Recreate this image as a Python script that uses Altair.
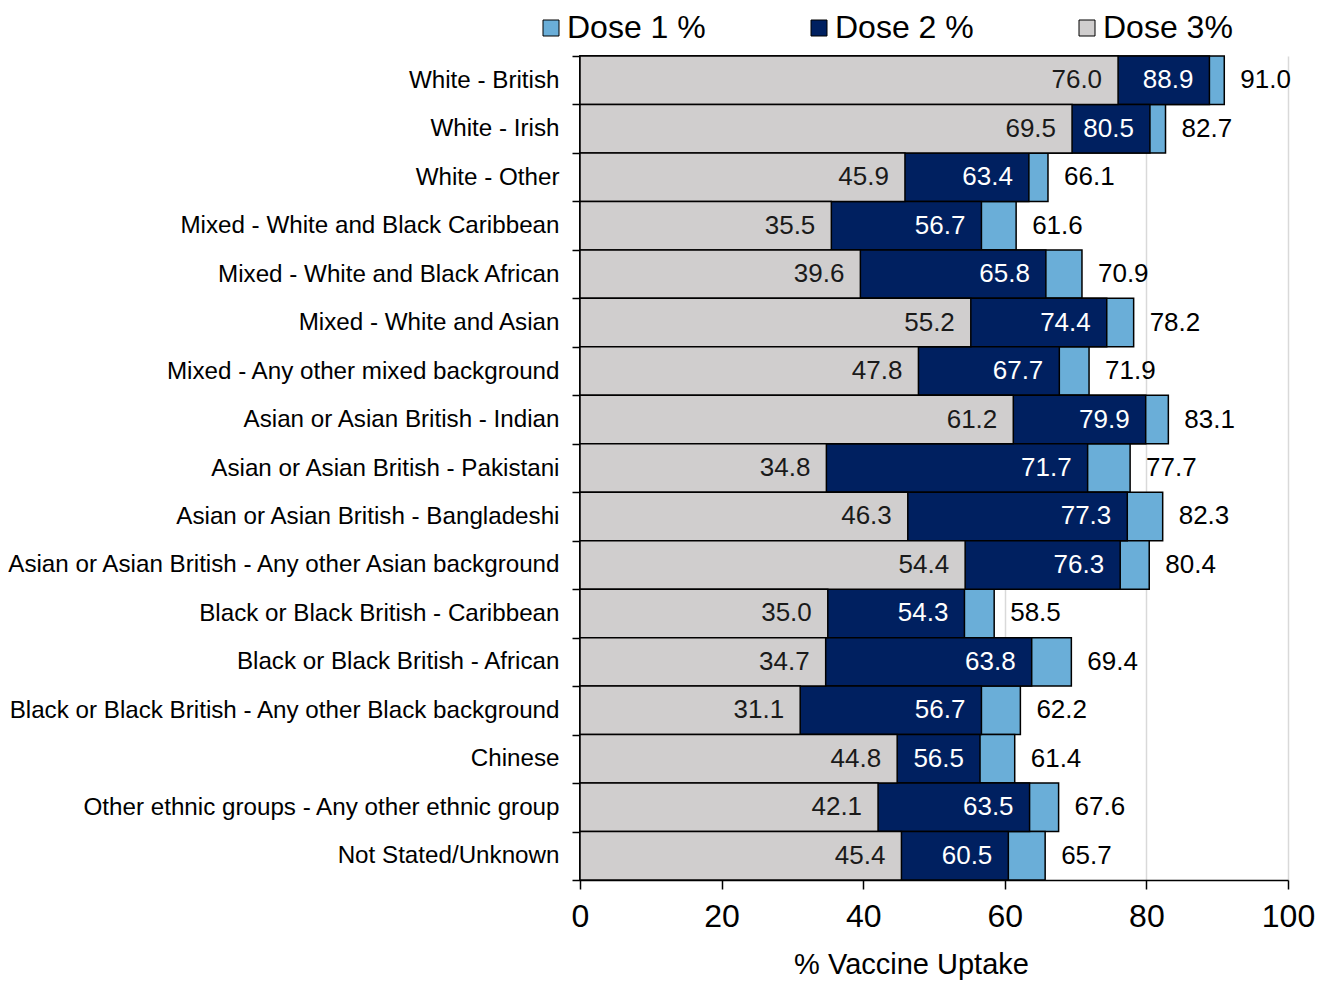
import altair as alt
import pandas as pd

groups = [
    "White - British",
    "White - Irish",
    "White - Other",
    "Mixed - White and Black Caribbean",
    "Mixed - White and Black African",
    "Mixed - White and Asian",
    "Mixed - Any other mixed background",
    "Asian or Asian British - Indian",
    "Asian or Asian British - Pakistani",
    "Asian or Asian British - Bangladeshi",
    "Asian or Asian British - Any other Asian background",
    "Black or Black British - Caribbean",
    "Black or Black British - African",
    "Black or Black British - Any other Black background",
    "Chinese",
    "Other ethnic groups - Any other ethnic group",
    "Not Stated/Unknown",
]
dose1 = [91.0, 82.7, 66.1, 61.6, 70.9, 78.2, 71.9, 83.1, 77.7, 82.3, 80.4, 58.5, 69.4, 62.2, 61.4, 67.6, 65.7]
dose2 = [88.9, 80.5, 63.4, 56.7, 65.8, 74.4, 67.7, 79.9, 71.7, 77.3, 76.3, 54.3, 63.8, 56.7, 56.5, 63.5, 60.5]
dose3 = [76.0, 69.5, 45.9, 35.5, 39.6, 55.2, 47.8, 61.2, 34.8, 46.3, 54.4, 35.0, 34.7, 31.1, 44.8, 42.1, 45.4]
series = ["Dose 1 %", "Dose 2 %", "Dose 3%"]
colors = ["#6AAED8", "#002060", "#D0CECE"]

rows = []
for z, (s, vals) in enumerate(zip(series, [dose1, dose2, dose3])):
    for g, v in zip(groups, vals):
        rows.append({"Group": g, "Dose": s, "Value": v, "z": z})
df = pd.DataFrame(rows)

FONT = "Liberation Sans"

y_enc = alt.Y(
    "Group:N",
    sort=groups,
    scale=alt.Scale(paddingInner=0, paddingOuter=0),
    axis=alt.Axis(
        title=None, tickBand="extent", labelFontSize=24.2, labelColor="black",
        labelPadding=13, tickSize=8, tickColor="black", tickWidth=1.5,
        domainColor="black", domainWidth=1.5, labelLimit=800, grid=False,
    ),
)
x_enc = alt.X(
    "Value:Q",
    stack=None,
    scale=alt.Scale(domain=[0, 100], nice=False),
    axis=alt.Axis(
        values=[0, 20, 40, 60, 80, 100], title="% Vaccine Uptake",
        labelFontSize=32, labelColor="black", labelFlush=False,
        titleFontSize=29, titleFontWeight="normal", titleColor="black",
        titleX=331, tickSize=9, tickColor="black", tickWidth=1.5,
        domainColor="black", domainWidth=1.5, labelPadding=12,
        titlePadding=18, grid=True, gridColor="#D9D9D9", gridWidth=1.5,
    ),
)

bars = alt.Chart(df).mark_bar(stroke="black", strokeWidth=1.5).encode(
    x=x_enc,
    y=y_enc,
    color=alt.Color(
        "Dose:N",
        scale=alt.Scale(domain=series, range=colors),
        legend=alt.Legend(
            title=None, orient="none", direction="horizontal",
            legendX=-45, legendY=-44, symbolType="square", symbolSize=256,
            symbolStrokeColor="black", symbolStrokeWidth=1, symbolOpacity=1,
            labelFontSize=32, labelColor="black", labelOffset=0,
            columnPadding=97, labelFont=FONT,
        ),
    ),
    order=alt.Order("z:Q"),
)

def labels(dose, align, dx, color):
    return (
        alt.Chart(df)
        .transform_filter(alt.datum.Dose == dose)
        .mark_text(align=align, dx=dx, baseline="middle", fontSize=26,
                   color=color, font=FONT)
        .encode(x=x_enc, y=y_enc, text=alt.Text("Value:Q", format=".1f"))
    )

chart = (
    alt.layer(
        bars,
        labels("Dose 3%", "right", -16, "#1a1a1a"),
        labels("Dose 2 %", "right", -16, "white"),
        labels("Dose 1 %", "left", 16, "black"),
    )
    .properties(
        width=708, height=824,
        padding={"left": 572, "top": 48, "right": 30, "bottom": 101},
        autosize=alt.AutoSizeParams(type="none"),
    )
    .configure_axis(labelFont=FONT, titleFont=FONT)
    .configure_legend(labelFont=FONT)
    .configure_view(stroke=None)
)

chart.save("out.html", embed_options={"renderer": "svg", "actions": False})
